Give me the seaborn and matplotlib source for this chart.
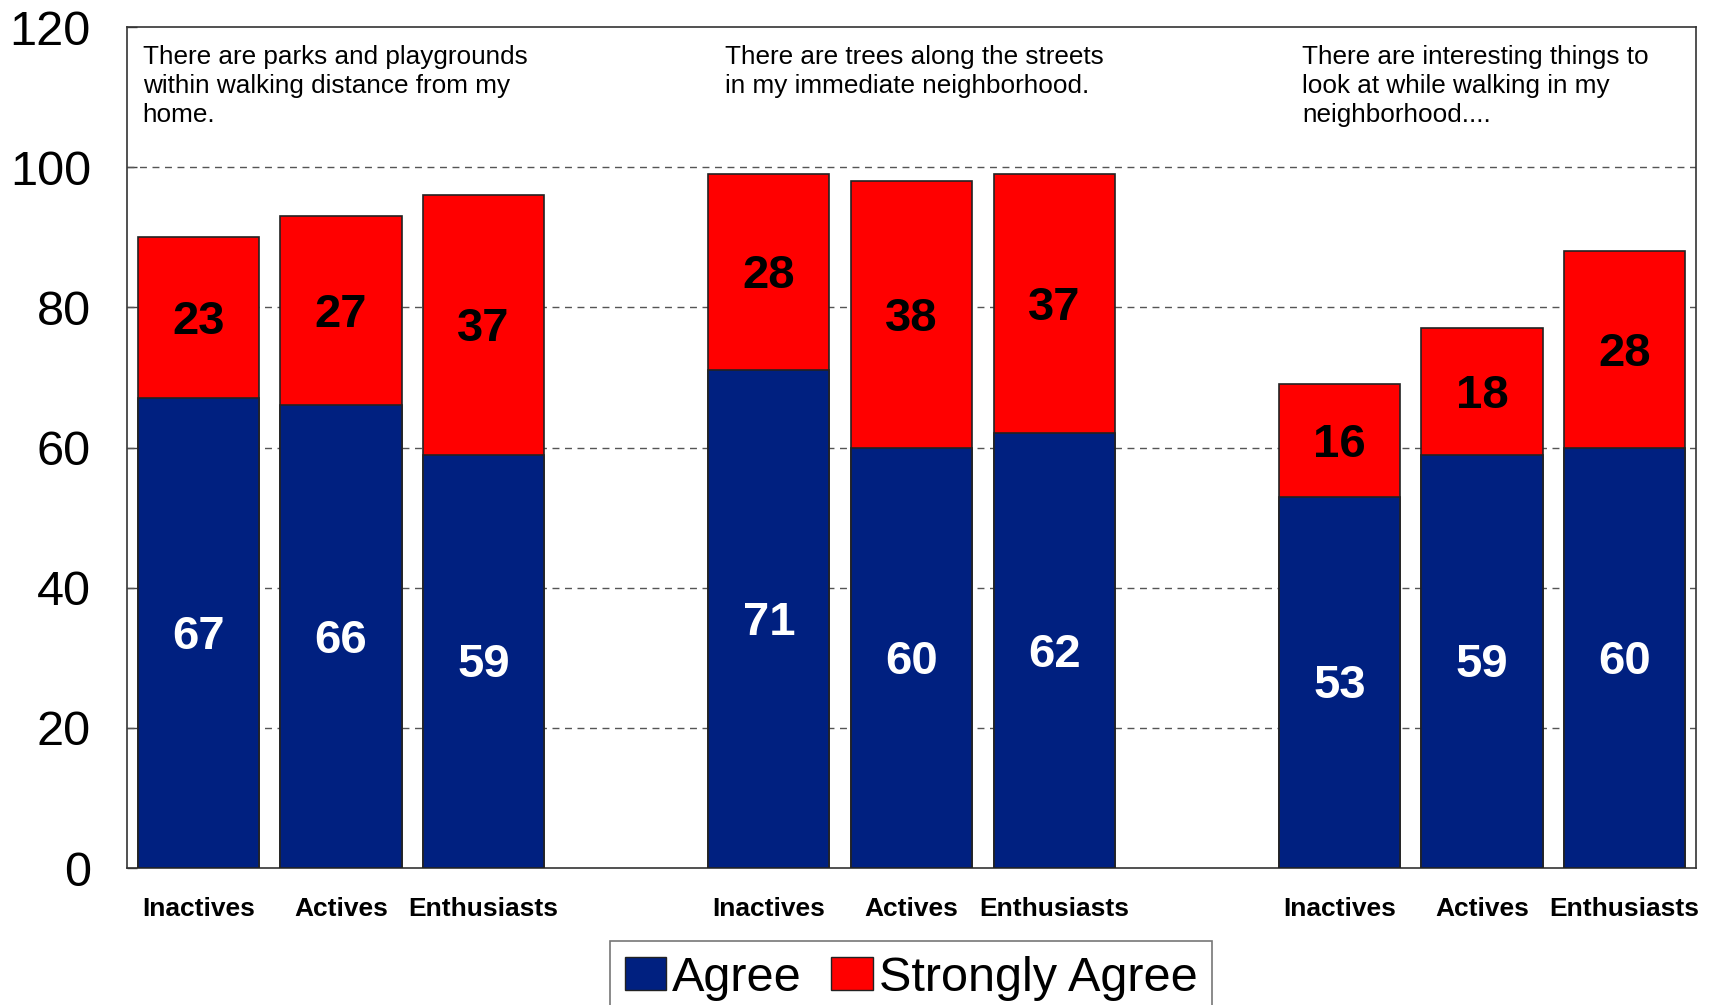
import matplotlib
matplotlib.use("Agg")
import matplotlib.pyplot as plt
import seaborn as sns
import pandas as pd
from matplotlib.patches import Patch

sns.set_theme(style="white")
plt.rcParams['font.family'] = ['Liberation Sans', 'DejaVu Sans']
plt.rcParams['text.color'] = 'black'
plt.rcParams['xtick.color'] = 'black'
plt.rcParams['ytick.color'] = 'black'

groups = ["Parks", "Trees", "Interesting"]
segments = ["Inactives", "Actives", "Enthusiasts"]
agree = [67, 66, 59, 71, 60, 62, 53, 59, 60]
strongly_agree = [23, 27, 37, 28, 38, 37, 16, 18, 28]
positions = [0, 1, 2, 4, 5, 6, 8, 9, 10]
tick_labels = segments * 3
statements = [
    "There are parks and playgrounds\nwithin walking distance from my\nhome.",
    "There are trees along the streets\nin my immediate neighborhood.",
    "There are interesting things to\nlook at while walking in my\nneighborhood....",
]
statement_x = [-0.39, 3.69, 7.74]

BLUE = "#002080"
RED = "#FF0000"

df = pd.DataFrame({
    "pos": positions,
    "agree": agree,
    "strong": strongly_agree,
})
df["total"] = df["agree"] + df["strong"]

fig = plt.figure(figsize=(17.13, 10.05), dpi=100)
ax = fig.add_axes([127/1713, 1 - 868/1005, (1696-127)/1713, (868-27)/1005])

sns.barplot(data=df, x="pos", y="total", native_scale=True, width=0.85,
            color=RED, saturation=1, edgecolor="#222222", linewidth=1.2, ax=ax, zorder=3)
sns.barplot(data=df, x="pos", y="agree", native_scale=True, width=0.85,
            color=BLUE, saturation=1, edgecolor="#222222", linewidth=1.2, ax=ax, zorder=4)

for p, a, s in zip(positions, agree, strongly_agree):
    ax.text(p, a / 2 - 0.6, str(a), ha="center", va="center", color="white",
            fontsize=34, fontweight="bold", zorder=5)
    ax.text(p, a + s / 2 - 0.6, str(s), ha="center", va="center", color="black",
            fontsize=34, fontweight="bold", zorder=5)

for sx, st in zip(statement_x, statements):
    ax.text(sx, 117.4, st, ha="left", va="top", fontsize=18.8, color="black",
            linespacing=1.27, zorder=5)

ax.set_xlim(-0.5, 10.5)
ax.set_ylim(0, 120)
ax.set_yticks([0, 20, 40, 60, 80, 100, 120])
ax.set_xticks(positions)
ax.set_xticklabels(tick_labels, fontsize=19, fontweight="bold", color="black")
ax.tick_params(axis="y", labelsize=35, direction="in", length=7, width=1,
               color="#444444", labelcolor="black", left=True, pad=26)
ax.tick_params(axis="x", length=0, pad=21, labelcolor="black")
ax.set_xlabel("")
ax.set_ylabel("")

for yv in [20, 40, 60, 80, 100]:
    ax.axhline(yv, color="#555555", linestyle=(0, (5, 4)), linewidth=1, zorder=1)

for sp in ax.spines.values():
    sp.set_visible(True)
    sp.set_color("#333333")
    sp.set_linewidth(1.2)

handles = [Patch(facecolor=BLUE, edgecolor="#222222", label="Agree"),
           Patch(facecolor=RED, edgecolor="#222222", label="Strongly Agree")]
leg = fig.legend(handles=handles, loc="upper center", bbox_to_anchor=(911/1713, 1 - 941/1005),
                 ncol=2, fontsize=35, frameon=True, fancybox=False, shadow=False,
                 handlelength=0.86, handleheight=0.64, handletextpad=0.12,
                 columnspacing=0.6, borderpad=0.3, borderaxespad=0)
leg.get_frame().set_edgecolor("#555555")
leg.get_frame().set_linewidth(1.2)
for t in leg.get_texts():
    t.set_color("black")

fig.savefig("out.png", dpi=100)
